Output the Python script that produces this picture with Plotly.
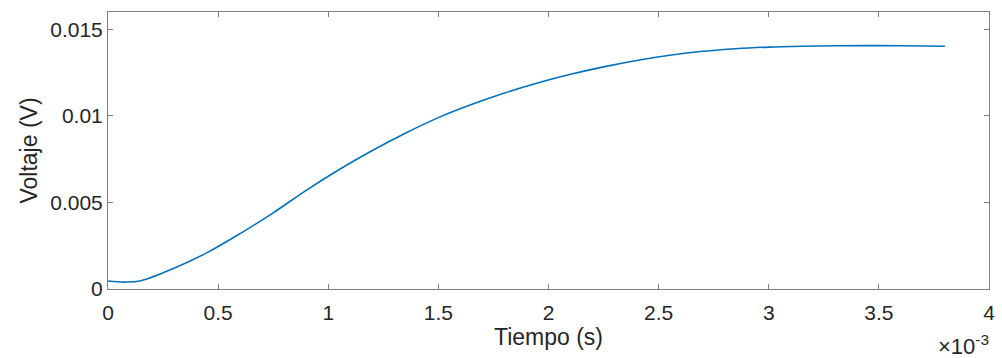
import plotly.graph_objects as go

# Time in units of 1e-3 s (axis shows x10^-3)
time_ms = [0.0, 0.08, 0.15, 0.30, 0.45, 0.60, 0.75, 0.90, 1.05, 1.20, 1.35, 1.50,
           1.65, 1.80, 1.95, 2.10, 2.25, 2.40, 2.55, 2.70, 2.85, 3.00, 3.15,
           3.30, 3.45, 3.60, 3.80]
voltage = [0.00046, 0.00040, 0.00048, 0.0012, 0.0021, 0.0032, 0.0044, 0.0057, 0.0069,
           0.0080, 0.0090, 0.0099, 0.01065, 0.01132, 0.0119, 0.0124, 0.01283, 0.0132,
           0.0135, 0.01373, 0.01388, 0.01397, 0.01402, 0.01405, 0.01406, 0.01405,
           0.01402]

x_ticks = [0, 0.5, 1, 1.5, 2, 2.5, 3, 3.5, 4]
x_ticklabels = ["0", "0.5", "1", "1.5", "2", "2.5", "3", "3.5", "4"]
y_ticks = [0, 0.005, 0.01, 0.015]
y_ticklabels = ["0", "0.005", "0.01", "0.015"]

FONT = "Liberation Sans, Arial, sans-serif"
TXT = "#262626"
AX = "#808080"

fig = go.Figure()
fig.add_trace(go.Scatter(x=time_ms, y=voltage, mode="lines",
                         line=dict(color="#0072BD", width=1.6, shape="spline", smoothing=1.0),
                         showlegend=False, hoverinfo="skip"))

axis_common = dict(showgrid=False, zeroline=False, showline=True, linecolor=AX, linewidth=1,
                   mirror="ticks", ticks="inside", ticklen=5, tickcolor=AX, tickwidth=1,
                   tickfont=dict(family=FONT, size=21, color=TXT))

fig.update_xaxes(range=[0, 4], tickvals=x_ticks, ticktext=x_ticklabels, ticklabelstandoff=5,
                 title=dict(text="Tiempo (s)", font=dict(family=FONT, size=23, color=TXT), standoff=0),
                 **axis_common)
fig.update_yaxes(range=[0, 0.016], tickvals=y_ticks, ticktext=y_ticklabels,
                 title=dict(text="Voltaje (V)", font=dict(family=FONT, size=23, color=TXT), standoff=6),
                 **axis_common)

fig.add_annotation(xref="paper", yref="paper", x=1.0, y=0, xanchor="right", yanchor="top",
                   yshift=-40, xshift=2, showarrow=False,
                   text="×10<sup>-3</sup>", font=dict(family=FONT, size=22, color=TXT))

fig.update_layout(width=1002, height=358, margin=dict(l=108, r=7, t=12, b=69),
                  paper_bgcolor="white", plot_bgcolor="white")

fig.write_html("out.html")
